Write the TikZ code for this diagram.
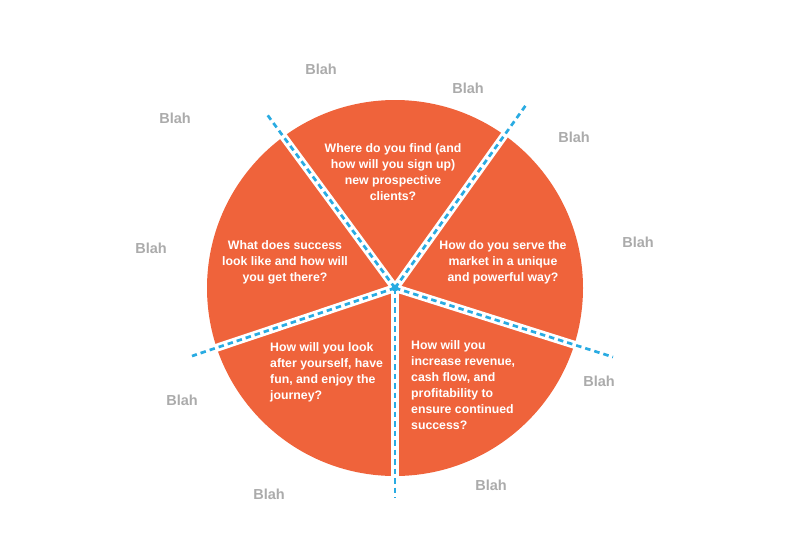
\documentclass[tikz,border=0pt]{standalone}
\usepackage{fontspec}
\setmainfont{Liberation Sans}
\definecolor{wedge}{HTML}{EF633B}
\definecolor{rayblue}{HTML}{29ABE2}
\definecolor{blahgray}{HTML}{ABABAB}
\tikzset{
  gap/.style={white, line width=8pt},
  ray/.style={rayblue, line width=2.7pt, dash pattern=on 5.5pt off 4pt},
  blah/.style={text=blahgray, font=\fontsize{14.5}{16}\selectfont\bfseries, inner sep=0pt},
  q/.style={text=white, font=\fontsize{12.3}{16}\selectfont\bfseries, inner sep=0pt},
}
\begin{document}
\begin{tikzpicture}[x=1pt,y=-1pt]
\useasboundingbox (0,0) rectangle (800,550);
\coordinate (hub) at (395,288);
\fill[wedge] (hub) circle (188);
\coordinate (e1) at (266,113);
\coordinate (e2) at (526,105);
\coordinate (e3) at (613,357);
\coordinate (e4) at (395,498);
\coordinate (e5) at (192,356);
\foreach \e in {e1,e2,e3,e4,e5} \draw[gap] (hub) -- (\e);
\fill[white] (hub) circle (6);
\foreach \e in {e1,e2,e3,e4,e5} \draw[ray] (hub) -- (\e);
\fill[rayblue] (hub) circle (3.5);
\node[q, align=center] (qtop) at (393,172) {Where do you find (and\\how will you sign up)\\new prospective\\clients?};
\node[q, align=center] (qright) at (503,262) {How do you serve the\\market in a unique\\and powerful way?};
\node[q, align=center] (qleft) at (285,262) {What does success\\look like and how will\\you get there?};
\node[q, align=left, anchor=west] (qll) at (270,372) {How will you look\\after yourself, have\\fun, and enjoy the\\journey?};
\node[q, align=left, anchor=west] (qlr) at (411,385) {How will you\\increase revenue,\\cash flow, and\\profitability to\\ensure continued\\success?};
\node[blah] (b1) at (321,69) {Blah};
\node[blah] (b2) at (468,88) {Blah};
\node[blah] (b3) at (574,137) {Blah};
\node[blah] (b4) at (638,242) {Blah};
\node[blah] (b5) at (599,381) {Blah};
\node[blah] (b6) at (491,485) {Blah};
\node[blah] (b7) at (269,494) {Blah};
\node[blah] (b8) at (182,400) {Blah};
\node[blah] (b9) at (151,248) {Blah};
\node[blah] (b10) at (175,118) {Blah};
\end{tikzpicture}
\end{document}
